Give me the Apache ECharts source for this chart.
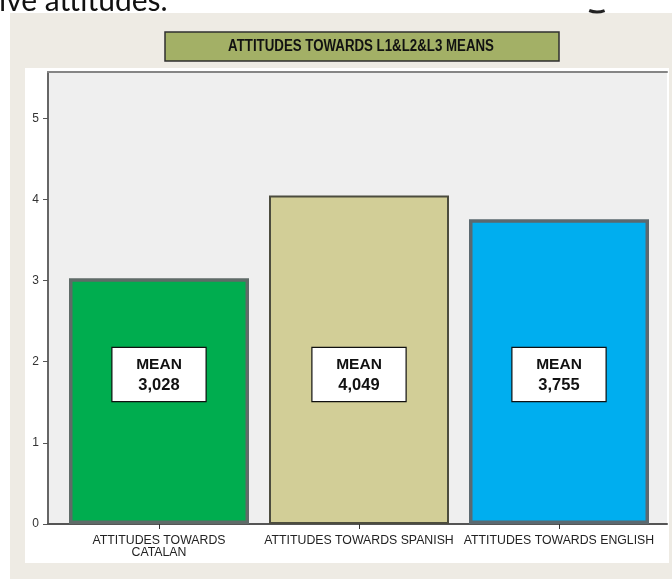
<!DOCTYPE html>
<html>
<head>
<meta charset="utf-8">
<script src="https://cdn.jsdelivr.net/npm/echarts@6/dist/echarts.min.js"></script>
<style>
  html, body { margin: 0; padding: 0; background: #ffffff; }
  #chart { width: 672px; height: 579px; }
</style>
</head>
<body>
<div id="chart"></div>
<script>
// Mean attitude scores per language
const categories = ['ATTITUDES TOWARDS\nCATALAN', 'ATTITUDES TOWARDS SPANISH', 'ATTITUDES TOWARDS ENGLISH'];
const means = [3.028, 4.049, 3.755];
const barColors = ['#00ad4f', '#d2ce97', '#00aeef'];
const barBorders = ['#5f6b68', '#4c4c3e', '#5b6970'];
const barBorderWidths = [3.5, 2, 3.5];
const yTicks = [0, 1, 2, 3, 4, 5];
const yMax = 5.57;
const titleText = 'ATTITUDES TOWARDS L1&L2&L3 MEANS';

const chart = echarts.init(document.getElementById('chart'), null, { renderer: 'canvas' });

const fmt = v => v.toFixed(3).replace('.', ',');

const option = {
  backgroundColor: 'transparent',
  animation: false,
  graphic: [
    // page text running above the figure
    { type: 'text', left: -1, top: -14, z: 1,
      style: { text: 'ive attitudes.', font: '30px Lato', fill: '#111' } },
    { type: 'arc', z: 1, shape: { cx: 597, cy: -9, r: 21, startAngle: 1.2, endAngle: 1.95 },
      style: { stroke: '#222', lineWidth: 3, fill: null } },
    // figure backdrop
    { type: 'rect', z: -10, shape: { x: 10, y: 13, width: 662, height: 566 },
      style: { fill: '#eeebe4' } },
    { type: 'rect', z: -9, shape: { x: 25, y: 68, width: 644, height: 495 },
      style: { fill: '#ffffff' } },
    // title box
    { type: 'rect', z: 5, shape: { x: 165, y: 32, width: 394, height: 29 },
      style: { fill: '#a3b066', stroke: '#2f2f2f', lineWidth: 1.5 } },
    { type: 'text', z: 6, x: 361, y: 46.5, scaleX: 0.83,
      style: { text: titleText, font: 'bold 16px "Liberation Sans", Arial, sans-serif', fill: '#111',
               align: 'center', verticalAlign: 'middle' } }
  ],
  grid: [
    { left: 48, right: 5, top: 72, bottom: 55, show: true, backgroundColor: '#efefef', borderWidth: 0 },
    { left: 59, right: 13, top: 72, bottom: 55 }
  ],
  xAxis: [
    { type: 'value', gridIndex: 0, min: 0, max: 1, position: 'bottom',
      axisLine: { show: true, lineStyle: { color: '#555', width: 2 } },
      axisTick: { show: false }, axisLabel: { show: false }, splitLine: { show: false } },
    { type: 'value', gridIndex: 0, min: 0, max: 1, position: 'top',
      axisLine: { show: true, lineStyle: { color: '#858585', width: 2 } },
      axisTick: { show: false }, axisLabel: { show: false }, splitLine: { show: false } },
    { type: 'category', gridIndex: 1, data: categories, position: 'bottom',
      axisLine: { show: false },
      axisTick: { show: true, alignWithLabel: true, length: 5, lineStyle: { color: '#333', width: 1 } },
      axisLabel: { interval: 0, margin: 11, color: '#222', fontSize: 12.3, lineHeight: 12,
                   fontFamily: '"Liberation Sans", Arial, sans-serif' },
      splitLine: { show: false } }
  ],
  yAxis: [
    { type: 'value', gridIndex: 0, min: 0, max: yMax,
      axisLine: { show: true, lineStyle: { color: '#666', width: 2 } },
      axisTick: { show: true, length: 5, customValues: yTicks, lineStyle: { color: '#555', width: 1 } },
      axisLabel: { customValues: yTicks, margin: 9, color: '#333', fontSize: 12,
                   fontFamily: '"Liberation Sans", Arial, sans-serif' },
      splitLine: { show: false } },
    { type: 'value', gridIndex: 1, min: 0, max: yMax, show: false, splitLine: { show: false } }
  ],
  series: [{
    type: 'bar',
    xAxisIndex: 2,
    yAxisIndex: 1,
    barCategoryGap: '10%',
    data: means.map((v, i) => ({
      value: v,
      itemStyle: { color: barColors[i], borderColor: barBorders[i], borderWidth: barBorderWidths[i] }
    })),
    label: {
      show: true,
      position: 'insideBottom',
      distance: 123,
      width: 93,
      padding: [6, 0, 5, 0],
      align: 'center',
      backgroundColor: '#ffffff',
      borderColor: '#111',
      borderWidth: 1.2,
      formatter: p => '{a|MEAN}\n{b|' + fmt(p.value) + '}',
      rich: {
        a: { fontSize: 15.5, fontWeight: 'bold', lineHeight: 21, color: '#111', align: 'center',
             fontFamily: '"Liberation Sans", Arial, sans-serif' },
        b: { fontSize: 16.5, fontWeight: 'bold', lineHeight: 21, color: '#111', align: 'center',
             fontFamily: '"Liberation Sans", Arial, sans-serif' }
      }
    }
  }]
};

chart.setOption(option);
</script>
</body>
</html>
